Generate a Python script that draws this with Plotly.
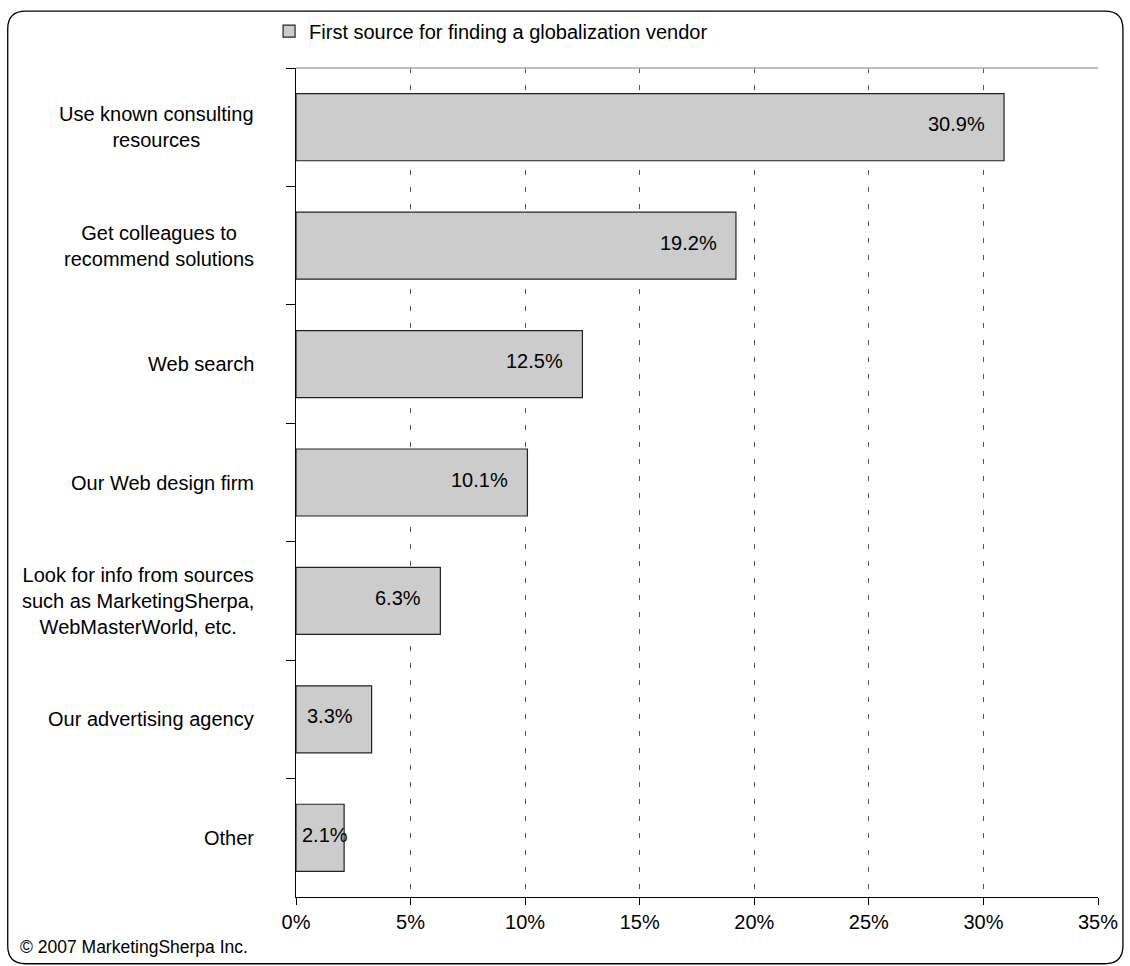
import plotly.graph_objects as go

categories = [
    "Use known consulting<br>resources",
    "Get colleagues to<br>recommend solutions",
    "Web search",
    "Our Web design firm",
    "Look for info from sources<br>such as MarketingSherpa,<br>WebMasterWorld, etc.",
    "Our advertising agency",
    "Other",
]
values = [30.9, 19.2, 12.5, 10.1, 6.3, 3.3, 2.1]
series_name = "First source for finding a globalization vendor"
x_ticks = [0, 5, 10, 15, 20, 25, 30, 35]
x_tick_labels = ["0%", "5%", "10%", "15%", "20%", "25%", "30%", "35%"]
copyright_text = "© 2007 MarketingSherpa Inc."

W, H = 1130, 966
L, R, T, B = 296, 1100, 65, 897
FONT = "Liberation Sans, Arial, sans-serif"
FS = 20

def px_x(p):
    return (p - L) / (R - L)

def px_y(p):
    return (B - p) / (B - T)

fig = go.Figure()
fig.add_trace(go.Bar(
    y=categories, x=values, orientation="h", name=series_name,
    marker=dict(color="#cccccc", line=dict(color="#222222", width=1.2)),
    showlegend=True, hoverinfo="skip",
))

annotations = []
for c, v in zip(categories, values):
    if v >= 3:
        annotations.append(dict(x=v, y=c, xref="x", yref="y", text=f"{v:.1f}%",
                                showarrow=False, xanchor="right", xshift=-17, yshift=3,
                                font=dict(size=FS, color="#000", family=FONT)))
    else:
        annotations.append(dict(x=0, y=c, xref="x", yref="y", text=f"{v:.1f}%",
                                showarrow=False, xanchor="left", xshift=4, yshift=3,
                                font=dict(size=FS, color="#000", family=FONT)))
    annotations.append(dict(x=0, y=c, xref="paper", yref="y", text=c,
                            showarrow=False, xanchor="right", align="center", xshift=-40,
                            font=dict(size=FS, color="#000", family=FONT)))

annotations.append(dict(x=px_x(17), y=px_y(947), xref="paper", yref="paper",
                        text=copyright_text, showarrow=False, xanchor="left", yanchor="middle",
                        font=dict(size=17.5, color="#000", family=FONT)))

# rounded outer frame
x0, y0, x1, y1, r = 7, 8, 1125, 964, 18
path = (f"M {px_x(x0 + r)} {px_y(y0)} L {px_x(x1 - r)} {px_y(y0)} "
        f"Q {px_x(x1)} {px_y(y0)} {px_x(x1)} {px_y(y0 + r)} "
        f"L {px_x(x1)} {px_y(y1 - r)} Q {px_x(x1)} {px_y(y1)} {px_x(x1 - r)} {px_y(y1)} "
        f"L {px_x(x0 + r)} {px_y(y1)} Q {px_x(x0)} {px_y(y1)} {px_x(x0)} {px_y(y1 - r)} "
        f"L {px_x(x0)} {px_y(y0 + r)} Q {px_x(x0)} {px_y(y0)} {px_x(x0 + r)} {px_y(y0)} Z")
shapes = [
    dict(type="path", path=path, xref="paper", yref="paper",
         line=dict(color="#000", width=1.3), fillcolor="rgba(0,0,0,0)", layer="above"),
    dict(type="line", x0=0, x1=1, y0=1, y1=1, xref="paper", yref="paper",
         line=dict(color="#aaaaaa", width=1.5)),
]

fig.update_layout(
    width=W, height=H,
    margin=dict(l=L, r=W - R, t=T, b=H - B),
    paper_bgcolor="white", plot_bgcolor="white",
    font=dict(family=FONT, size=FS, color="#000"),
    bargap=0.434,
    showlegend=True,
    legend=dict(orientation="h", x=px_x(269), y=px_y(28), xanchor="left", yanchor="middle",
                font=dict(size=FS, family=FONT), bgcolor="rgba(0,0,0,0)", itemclick=False),
    xaxis=dict(range=[0, 35], tickvals=x_ticks, ticktext=x_tick_labels,
               showgrid=True, gridcolor="#555555", griddash="5px,12px", gridwidth=1,
               showline=True, linecolor="#000", linewidth=1.2,
               ticks="outside", ticklen=7, tickcolor="#000",
               tickfont=dict(size=FS, family=FONT), zeroline=False, fixedrange=True),
    yaxis=dict(categoryorder="array", categoryarray=categories, autorange="reversed",
               showticklabels=False, showgrid=False, showline=True, linecolor="#000",
               linewidth=1.2, ticks="outside", ticklen=9, tickcolor="#000",
               tickson="boundaries", zeroline=False, fixedrange=True),
    annotations=annotations,
    shapes=shapes,
)

fig.write_html("out.html")
